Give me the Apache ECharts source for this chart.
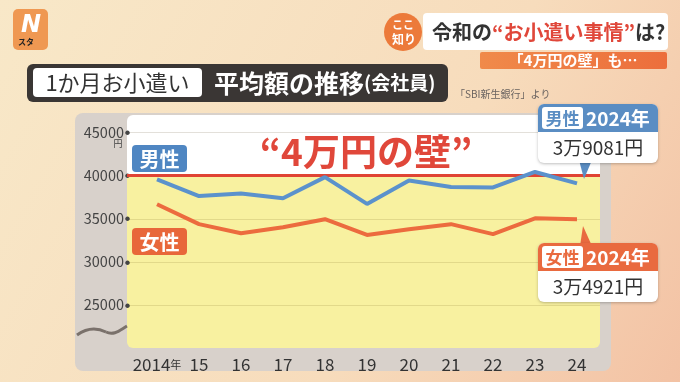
<!DOCTYPE html>
<html><head><meta charset="utf-8">
<script src="https://cdn.jsdelivr.net/npm/echarts@6/dist/echarts.min.js"></script>
<style>html,body{margin:0;padding:0;}#c{width:680px;height:382px;}</style>
</head><body><div id="c"></div>
<script>
const years = ['2014','15','16','17','18','19','20','21','22','23','24'];
const male = [39540, 37600, 37900, 37350, 39800, 36700, 39420, 38650, 38600, 40400, 39081];
const female = [36650, 34350, 33300, 34000, 34920, 33100, 33750, 34350, 33200, 35030, 34921];
const yTicks = [25000, 30000, 35000, 40000, 45000];
const wall = 40000;

const FONT = '"Noto Sans CJK JP", "Noto Sans", sans-serif';
const chart = echarts.init(document.getElementById('c'), null, {renderer: 'canvas'});
function man(v){ return Math.floor(v/10000) + '万' + (v % 10000) + '円'; }

const option = {
  animation: false,
  backgroundColor: {type: 'linear', x: 0, y: 0, x2: 1, y2: 1, colorStops: [
    {offset: 0, color: '#f8e8c8'}, {offset: 0.6, color: '#f7dcbc'}, {offset: 1, color: '#f3c2a4'}]},
  grid: {left: 136, right: 82, top: 115, bottom: 34},
  xAxis: {
    type: 'category', data: years, boundaryGap: true,
    axisLine: {show: false}, axisTick: {show: false},
    axisLabel: {interval: 0, margin: 8, color: '#333', fontSize: 17, fontFamily: FONT,
      formatter: function(v, i){ return i === 0 ? '{a|' + v + '}{b|年}' : v; },
      rich: {a: {fontSize: 17, color: '#333', fontFamily: FONT}, b: {fontSize: 11, color: '#333', fontFamily: FONT}}
    }
  },
  yAxis: {
    type: 'value', min: 20000, max: 47000, interval: 5000,
    axisLine: {show: false}, axisTick: {show: false}, splitLine: {show: false},
    axisLabel: {margin: 6, fontFamily: FONT,
      formatter: function(v){ return yTicks.indexOf(v) >= 0 ? '{v|' + v + '}{d|●}' : ''; },
      rich: {v: {fontSize: 14.5, color: '#444', fontFamily: FONT}, d: {fontSize: 5, color: '#444', padding: [0,0,0,1]}}
    }
  },
  series: [
    {name: '女性', type: 'line', data: female, z: 3, symbol: 'none', lineStyle: {color: '#ec6b3e', width: 4}},
    {name: '男性', type: 'line', data: male, z: 4, symbol: 'none', lineStyle: {color: '#5b92cc', width: 4}}
  ]
};
chart.setOption(option);

const yp = v => chart.convertToPixel({yAxisIndex: 0}, v);
const L = 127, R = 600;
const yTop = yp(47000), y40 = yp(wall), yBot = yp(20000);

const g = [];
// panel
g.push({type: 'rect', z: -10, shape: {x: 75, y: 113, width: 536, height: 258, r: 8}, style: {fill: '#d8d1cb'}});
g.push({type: 'rect', z: -9, shape: {x: L, y: yTop, width: R - L, height: y40 - yTop, r: [6, 6, 0, 0]}, style: {fill: '#ffffff'}});
g.push({type: 'rect', z: -9, shape: {x: L, y: y40, width: R - L, height: yBot - y40, r: [0, 0, 6, 6]}, style: {fill: '#f8f1a0'}});
yTicks.forEach(t => {
  if (t === wall) return;
  const y = Math.round(yp(t)) + 0.5;
  g.push({type: 'line', z: -8, shape: {x1: L, y1: y, x2: R, y2: y}, style: {stroke: t > wall ? '#e3e0da' : '#e2d98a', lineWidth: 1}});
});
g.push({type: 'line', z: 1, shape: {x1: L, y1: y40, x2: R, y2: y40}, style: {stroke: '#e04434', lineWidth: 3}});
// axis break wave
g.push({type: 'bezierCurve', z: -7, shape: {x1: 77, y1: 335, cpx1: 88, cpy1: 327, cpx2: 98, cpy2: 328, x2: 106, y2: 332}, style: {stroke: '#7a716b', lineWidth: 3, fill: null}});
g.push({type: 'bezierCurve', z: -7, shape: {x1: 106, y1: 332, cpx1: 114, cpy1: 336, cpx2: 120, cpy2: 330, x2: 127, y2: 326}, style: {stroke: '#7a716b', lineWidth: 3, fill: null}});
// yen unit
g.push({type: 'text', z: 5, style: {text: '円', x: 118, y: yp(45000) + 11, fontSize: 9, fill: '#444', align: 'center', verticalAlign: 'middle', fontFamily: FONT}});

// series labels
g.push({type: 'rect', z: 6, shape: {x: 132, y: 145, width: 55, height: 27, r: 4}, style: {fill: '#4f86c2'}});
g.push({type: 'text', z: 7, style: {text: '男性', x: 159.5, y: 159, fontSize: 20, fontWeight: 'bold', fill: '#fff', align: 'center', verticalAlign: 'middle', fontFamily: FONT}});
g.push({type: 'rect', z: 6, shape: {x: 132, y: 228, width: 55, height: 27, r: 4}, style: {fill: '#e8673a'}});
g.push({type: 'text', z: 7, style: {text: '女性', x: 159.5, y: 242, fontSize: 20, fontWeight: 'bold', fill: '#fff', align: 'center', verticalAlign: 'middle', fontFamily: FONT}});
// wall text
g.push({type: 'text', z: 7, style: {text: '“4万円の壁”', x: 366, y: 152, fontSize: 37, fontWeight: 'bold', fill: '#e0473a', align: 'center', verticalAlign: 'middle', fontFamily: FONT}});

// callouts
function callout(yH, color, sex, val, ptr) {
  const x = 538, w = 120;
  g.push({type: 'polygon', z: 20, shape: {points: ptr}, style: {fill: color}});
  g.push({type: 'rect', z: 20, shape: {x: x, y: yH, width: w, height: 59, r: 6}, style: {fill: '#fff', shadowBlur: 3, shadowColor: 'rgba(0,0,0,0.25)', shadowOffsetY: 1}});
  g.push({type: 'rect', z: 21, shape: {x: x, y: yH, width: w, height: 28, r: [6, 6, 0, 0]}, style: {fill: color}});
  g.push({type: 'rect', z: 22, shape: {x: x + 4, y: yH + 3, width: 41, height: 22, r: 3}, style: {fill: '#fff'}});
  g.push({type: 'text', z: 23, style: {text: sex, x: x + 24.5, y: yH + 14.5, fontSize: 17, fontWeight: 'bold', fill: color, align: 'center', verticalAlign: 'middle', fontFamily: FONT}});
  g.push({type: 'text', z: 23, style: {text: years[0].slice(0, 2) + years[years.length - 1] + '年', x: x + 48, y: yH + 14.5, fontSize: 19, fontWeight: 'bold', fill: '#fff', align: 'left', verticalAlign: 'middle', fontFamily: FONT}});
  g.push({type: 'text', z: 23, style: {text: man(val), x: x + 60, y: yH + 44, fontSize: 19, fill: '#333', align: 'center', verticalAlign: 'middle', fontFamily: FONT}});
}
callout(104, '#5a8dc3', '男性', male[male.length - 1], [[579, 160], [592, 160], [584, 179]]);
callout(243, '#e96a3f', '女性', female[female.length - 1], [[580, 246], [592, 246], [583, 226]]);

// title bar
g.push({type: 'rect', z: 5, shape: {x: 27, y: 64, width: 421, height: 38, r: 6}, style: {fill: '#3a3634'}});
g.push({type: 'rect', z: 6, shape: {x: 33, y: 68, width: 169, height: 29, r: 4}, style: {fill: '#fff'}});
g.push({type: 'text', z: 7, style: {text: '1か月お小遣い', x: 117.5, y: 83, fontSize: 22, fill: '#333', align: 'center', verticalAlign: 'middle', fontFamily: FONT}});
g.push({type: 'text', z: 7, style: {text: '{a|平均額の推移}{b|(会社員)}', x: 214, y: 83, align: 'left', verticalAlign: 'middle',
  rich: {a: {fontSize: 25, fontWeight: 'bold', fill: '#fff', fontFamily: FONT}, b: {fontSize: 19, fontWeight: 'bold', fill: '#fff', fontFamily: FONT}}}});
g.push({type: 'text', z: 7, style: {text: '「SBI新生銀行」より', x: 455, y: 94, fontSize: 10, fill: '#6a6360', align: 'left', verticalAlign: 'middle', fontFamily: FONT}});

// logo
g.push({type: 'rect', z: 5, shape: {x: 13, y: 9, width: 35, height: 41, r: 5}, style: {fill: '#ef9852'}});
g.push({type: 'text', z: 6, style: {text: 'N', x: 31, y: 26, fontSize: 24, fontWeight: 'bold', fontStyle: 'italic', fill: '#fff', align: 'center', verticalAlign: 'middle', fontFamily: 'DejaVu Sans'}});
g.push({type: 'text', z: 6, style: {text: 'スタ', x: 26, y: 42, fontSize: 8, fontWeight: 'bold', fill: '#222', align: 'center', verticalAlign: 'middle', fontFamily: FONT}});

// headline
g.push({type: 'rect', z: 5, shape: {x: 423, y: 13, width: 245, height: 37, r: 4}, style: {fill: '#fff'}});
g.push({type: 'rect', z: 5, shape: {x: 480, y: 52, width: 187, height: 17, r: 2}, style: {fill: {type: 'linear', x: 0, y: 0, x2: 1, y2: 0, colorStops: [{offset: 0, color: '#f08a4a'}, {offset: 1, color: '#ec6e3c'}]}}});
g.push({type: 'text', z: 6, style: {text: '「4万円の壁」も…', x: 573, y: 60.5, fontSize: 15, fontWeight: 'bold', fill: '#fff', align: 'center', verticalAlign: 'middle', fontFamily: FONT}});
g.push({type: 'text', z: 6, style: {text: '{a|令和の}{b|“お小遣い事情”}{a|は?}', x: 432, y: 32, align: 'left', verticalAlign: 'middle',
  rich: {a: {fontSize: 20, fontWeight: 'bold', fill: '#333', fontFamily: FONT}, b: {fontSize: 20, fontWeight: 'bold', fill: '#e0473a', fontFamily: FONT}}}});
g.push({type: 'circle', z: 7, shape: {cx: 403, cy: 32, r: 19}, style: {fill: '#ec7a3a'}});
g.push({type: 'text', z: 8, style: {text: 'ここ', x: 403, y: 25, fontSize: 11, fontWeight: 'bold', fill: '#fff', align: 'center', verticalAlign: 'middle', fontFamily: FONT}});
g.push({type: 'text', z: 8, style: {text: '知り', x: 404, y: 39, fontSize: 12, fontWeight: 'bold', fill: '#fff', align: 'center', verticalAlign: 'middle', fontFamily: FONT}});

chart.setOption({graphic: {elements: g}});
</script></body></html>
